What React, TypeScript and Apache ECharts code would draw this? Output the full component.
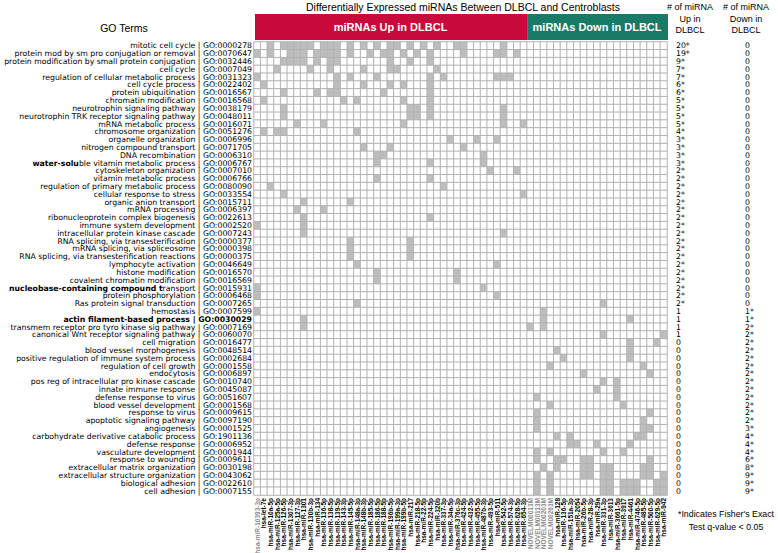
import React, { useEffect, useRef } from "react";
import * as echarts from "echarts";

const goTerms = [
  "mitotic cell cycle | GO:0000278",
  "protein mod by sm pro conjugation or removal | GO:0070647",
  "protein modification by small protein conjugation | GO:0032446",
  "cell cycle | GO:0007049",
  "regulation of cellular metabolic process | GO:0031323",
  "cell cycle process | GO:0022402",
  "protein ubiquitination | GO:0016567",
  "chromatin modification | GO:0016568",
  "neurotrophin signaling pathway | GO:0038179",
  "neurotrophin TRK receptor signaling pathway | GO:0048011",
  "mRNA metabolic process | GO:0016071",
  "chromosome organization | GO:0051276",
  "organelle organization | GO:0006996",
  "nitrogen compound transport | GO:0071705",
  "DNA recombination | GO:0006310",
  "water-soluble vitamin metabolic process | GO:0006767",
  "cytoskeleton organization | GO:0007010",
  "vitamin metabolic process | GO:0006766",
  "regulation of primary metabolic process | GO:0080090",
  "cellular response to stress | GO:0033554",
  "organic anion transport | GO:0015711",
  "mRNA processing | GO:0006397",
  "ribonucleoprotein complex biogenesis | GO:0022613",
  "immune system development | GO:0002520",
  "intracellular protein kinase cascade | GO:0007243",
  "RNA splicing, via transesterification | GO:0000377",
  "mRNA splicing, via spliceosome | GO:0000398",
  "RNA splicing, via transesterification reactions | GO:0000375",
  "lymphocyte activation | GO:0046649",
  "histone modification | GO:0016570",
  "covalent chromatin modification | GO:0016569",
  "nucleobase-containing compound transport | GO:0015931",
  "protein phosphorylation | GO:0006468",
  "Ras protein signal transduction | GO:0007265",
  "hemostasis | GO:0007599",
  "actin filament-based process | GO:0030029",
  "transmem receptor pro tyro kinase sig pathway | GO:0007169",
  "canonical Wnt receptor signaling pathway | GO:0060070",
  "cell migration | GO:0016477",
  "blood vessel morphogenesis | GO:0048514",
  "positive regulation of immune system process | GO:0002684",
  "regulation of cell growth | GO:0001558",
  "endocytosis | GO:0006897",
  "pos reg of intracellular pro kinase cascade | GO:0010740",
  "innate immune response | GO:0045087",
  "defense response to virus | GO:0051607",
  "blood vessel development | GO:0001568",
  "response to virus | GO:0009615",
  "apoptotic signaling pathway | GO:0097190",
  "angiogenesis | GO:0001525",
  "carbohydrate derivative catabolic process | GO:1901136",
  "defense response | GO:0006952",
  "vasculature development | GO:0001944",
  "response to wounding | GO:0009611",
  "extracellular matrix organization | GO:0030198",
  "extracellular structure organization | GO:0043062",
  "biological adhesion | GO:0022610",
  "cell adhesion | GO:0007155",
];

const upCounts = [
  "20*", "19*", "9*", "7*", "7*", "6*", "6*", "5*", "5*", "5*", "5*", "4*", "3*", "3*", "3*", "3*",
  "2*", "2*", "2*", "2*", "2*", "2*", "2*", "2*", "2*", "2*", "2*", "2*", "2*", "2*", "2*", "2*", "2*", "2*",
  "1", "1", "1", "1",
  "0", "0", "0", "0", "0", "0", "0", "0", "0", "0", "0", "0", "0", "0", "0", "0", "0", "0", "0", "0",
];

const downCounts = [
  "0", "0", "0", "0", "0", "0", "0", "0", "0", "0", "0", "0", "0", "0", "0", "0", "0",
  "0", "0", "0", "0", "0", "0", "0", "0", "0", "0", "0", "0", "0", "0", "0", "0", "0",
  "1*", "1*",
  "2*", "2*", "2*", "2*", "2*", "2*", "2*", "2*", "2*", "2*", "2*", "2*", "2*",
  "3*", "4*", "4*", "4*", "6*", "8*", "9*", "9*", "9*",
];

const upMirnas = [
  "hsa-miR-10393-3p", "hsa-let-7e", "hsa-miR-10a-5p", "hsa-miR-125a-5p", "hsa-miR-126-5p",
  "hsa-miR-1307-3p", "hsa-miR-127-3p", "hsa-miR-1301", "hsa-miR-130b-3p", "hsa-miR-134",
  "hsa-miR-136-5p", "hsa-miR-138-5p", "hsa-miR-139-5p", "hsa-miR-143-3p", "hsa-miR-145-5p",
  "hsa-miR-148a-3p", "hsa-miR-148b-3p", "hsa-miR-185-5p", "hsa-miR-186-5p", "hsa-miR-188-5p",
  "hsa-miR-196b-5p", "hsa-miR-199a-3p", "hsa-miR-199b-5p", "hsa-miR-217", "hsa-miR-218-5p",
  "hsa-miR-22-5p", "hsa-miR-224-5p", "hsa-miR-320b", "hsa-miR-337-3p", "hsa-miR-34a-5p",
  "hsa-miR-376c-3p", "hsa-miR-424-5p", "hsa-miR-432-5p", "hsa-miR-455-5p", "hsa-miR-487b-3p",
  "hsa-miR-493-5p", "hsa-miR-511", "hsa-miR-542-5p", "hsa-miR-574-3p", "hsa-miR-628-5p",
  "hsa-miR-654-3p",
];

const downMirnas = [
  "NOVELM00013M", "NOVELM00113M", "NOVELM00203M", "NOVELM00263M",
  "hsa-miR-128", "hsa-miR-136-5p", "hsa-miR-151a-3p", "hsa-miR-2054", "hsa-miR-26b-5p",
  "hsa-miR-28-3p", "hsa-miR-29a", "hsa-miR-331-3p", "hsa-miR-3613", "hsa-miR-3661-5p",
  "hsa-miR-3917", "hsa-miR-4461", "hsa-miR-4746-5p", "hsa-miR-485-5p", "hsa-miR-500-5p",
  "hsa-miR-629-5p", "hsa-miR-942",
];

// filled cells: for each GO term row, the miRNA column indices marked
const filledColumns: number[][] = [
  [2, 4, 5, 6, 7, 8, 10, 11, 12, 14, 16, 18, 20, 21, 23, 25, 27, 30, 31, 37],
  [0, 2, 5, 6, 7, 9, 10, 11, 12, 14, 17, 19, 20, 22, 24, 26, 31, 36, 37, 39],
  [4, 5, 6, 7, 9, 11, 12, 20, 23, 26],
  [3, 8, 11, 16, 20, 21, 27],
  [0, 12, 14, 18, 26, 28, 36, 37, 38],
  [1, 12, 16, 20, 22, 26],
  [4, 9, 11, 12, 19, 26],
  [1, 13, 15, 22, 26],
  [4, 23, 24, 26, 37],
  [4, 23, 24, 26, 37],
  [6, 10, 22, 37, 40],
  [1, 3, 4, 15],
  [29, 33, 36],
  [16, 20, 31],
  [18, 19, 34],
  [18, 26, 34],
  [35, 39],
  [18, 26],
  [2, 28],
  [4, 40],
  [7, 14],
  [6, 10],
  [7, 26],
  [0, 7],
  [7, 37],
  [14, 23],
  [14, 23],
  [14, 23],
  [15, 36],
  [18, 30],
  [18, 30],
  [0, 34],
  [0, 36],
  [15, 52],
  [0, 43],
  [7, 43, 56],
  [7, 41, 43],
  [52, 61],
  [56, 60],
  [45, 56],
  [46, 56],
  [44, 58],
  [49, 59],
  [52, 54],
  [51, 54],
  [42, 54],
  [44, 55],
  [42, 59],
  [42, 58],
  [42, 58, 59],
  [45, 47, 57, 58],
  [47, 48, 51, 56],
  [42, 44, 52, 55],
  [42, 45, 46, 49, 50, 59],
  [43, 45, 49, 50, 52, 53, 58, 59],
  [42, 44, 49, 50, 52, 53, 58, 59, 61],
  [42, 44, 52, 53, 55, 56, 57, 60, 61],
  [42, 44, 52, 53, 55, 56, 57, 60, 61],
];

const title = "Differentially Expressed miRNAs Between DLBCL and Centroblasts";
const upHeader = "miRNAs Up in DLBCL";
const downHeader = "miRNAs Down in DLBCL";
const rowHeader = "GO Terms";
const upColHeader = ["# of miRNA", "Up in", "DLBCL"];
const downColHeader = ["# of miRNA", "Down in", "DLBCL"];
const footnote = ["*Indicates Fisher's Exact", "Test q-value < 0.05"];

const FONT = "'Liberation Sans', Arial, Helvetica, sans-serif";
const ROWFONT = "'DejaVu Sans', Verdana, sans-serif";

const boldPrefix: Record<string, number> = {
  "water-soluble vitamin metabolic process | GO:0006767": 10,
  "nucleobase-containing compound transport | GO:0015931": 32,
  "actin filament-based process | GO:0030029": 100,
};

export default function App() {
  const ref = useRef<HTMLDivElement>(null);

  useEffect(() => {
    if (!ref.current) return;
    const chart = echarts.init(ref.current, undefined, { renderer: "svg" });
    const mirnas = [...upMirnas, ...downMirnas];
    const greyLabels = new Set(["hsa-miR-10393-3p", ...downMirnas.filter((m) => m.startsWith("NOVEL"))]);

    const data: any[] = [];
    goTerms.forEach((_, r) => {
      const set = new Set(filledColumns[r]);
      mirnas.forEach((_, c) => {
        data.push([c, r, set.has(c) ? 1 : 0]);
      });
    });

    const gridLeft = 254;
    const gridTop = 42;
    const gridW = 413;
    const gridH = 453;
    const cellW = gridW / mirnas.length;
    const splitX = gridLeft + cellW * upMirnas.length;
    const rowFontSize = 7.75;

    const headerText = (lines: string[], x: number) =>
      lines.map((t, i) => ({
        type: "text",
        x,
        y: 7 + i * 11.5,
        style: { text: t, fill: "#000", font: `9px ${FONT}`, align: "center", verticalAlign: "middle" },
      }));

    const countAxis = (data: string[], offset: number, margin: number) => ({
      type: "category",
      data,
      inverse: true,
      position: "right",
      offset,
      axisLine: { show: false },
      axisTick: { show: false },
      splitLine: { show: false },
      axisLabel: {
        interval: 0,
        margin,
        fontSize: rowFontSize,
        lineHeight: 7,
        fontFamily: ROWFONT,
        color: "#000",
        align: "left",
      },
    });

    chart.setOption({
      animation: false,
      backgroundColor: "#fff",
      grid: {
        left: gridLeft,
        top: gridTop,
        width: gridW,
        height: gridH,
        containLabel: false,
        outerBoundsMode: "none",
      },
      xAxis: {
        type: "category",
        data: mirnas,
        position: "bottom",
        axisLine: { show: false },
        axisTick: { show: false },
        splitLine: { show: false },
        axisLabel: {
          interval: 0,
          rotate: 90,
          margin: 3,
          fontSize: 6.5,
          lineHeight: 6,
          fontWeight: "bold",
          fontFamily: FONT,
          color: (v: string) => (greyLabels.has(v) ? "#8a8a8a" : "#000"),
        },
      },
      yAxis: [
        {
          type: "category",
          data: goTerms,
          inverse: true,
          axisLine: { show: false },
          axisTick: { show: false },
          splitLine: { show: false },
          axisLabel: {
            interval: 0,
            margin: 2,
            fontSize: rowFontSize,
            lineHeight: 7,
            fontFamily: ROWFONT,
            color: "#000",
            formatter: (v: string) => {
              const n = boldPrefix[v];
              if (!n) return v;
              const a = v.slice(0, n);
              const b = v.slice(n);
              return b ? `{b|${a}}${b}` : `{b|${a}}`;
            },
            rich: { b: { fontWeight: "bold", fontSize: rowFontSize, lineHeight: 7, fontFamily: ROWFONT, color: "#000" } },
          },
        },
        countAxis(upCounts, 0, 9),
        countAxis(downCounts, 78, 0),
      ],
      visualMap: {
        show: false,
        type: "piecewise",
        dimension: 2,
        pieces: [
          { value: 0, color: "#ffffff" },
          { value: 1, color: "#bdbdbd" },
        ],
      },
      series: [
        {
          type: "heatmap",
          xAxisIndex: 0,
          yAxisIndex: 0,
          data,
          itemStyle: { borderColor: "#b2b2b2", borderWidth: 1 },
          emphasis: { disabled: true },
        },
      ],
      graphic: [
        {
          type: "text",
          x: 463,
          y: 7,
          style: { text: title, fill: "#000", font: `10.5px ${FONT}`, align: "center", verticalAlign: "middle" },
        },
        {
          type: "text",
          x: 124,
          y: 28,
          style: { text: rowHeader, fill: "#000", font: `10.5px ${FONT}`, align: "center", verticalAlign: "middle" },
        },
        {
          type: "rect",
          shape: { x: gridLeft + 1, y: 14, width: splitX - gridLeft - 1, height: 26 },
          style: { fill: "#c8093b" },
        },
        {
          type: "rect",
          shape: { x: splitX, y: 14, width: gridLeft + gridW + 1 - splitX, height: 26 },
          style: { fill: "#197a68" },
        },
        {
          type: "text",
          x: (gridLeft + splitX) / 2,
          y: 27,
          style: { text: upHeader, fill: "#fff", font: `bold 11px ${FONT}`, align: "center", verticalAlign: "middle" },
        },
        {
          type: "text",
          x: (splitX + gridLeft + gridW) / 2,
          y: 27,
          style: { text: downHeader, fill: "#fff", font: `bold 11px ${FONT}`, align: "center", verticalAlign: "middle" },
        },
        ...headerText(upColHeader, 690),
        ...headerText(downColHeader, 746),
        ...footnote.map((t, i) => ({
          type: "text",
          x: 726,
          y: 514 + i * 12.5,
          style: { text: t, fill: "#000", font: `8.8px ${FONT}`, align: "center", verticalAlign: "middle" },
        })),
      ],
    });
    return () => chart.dispose();
  }, []);

  return (
    <div
      ref={ref}
      style={{ position: "fixed", left: 0, top: 0, width: 778, height: 553, background: "#fff" }}
    />
  );
}
